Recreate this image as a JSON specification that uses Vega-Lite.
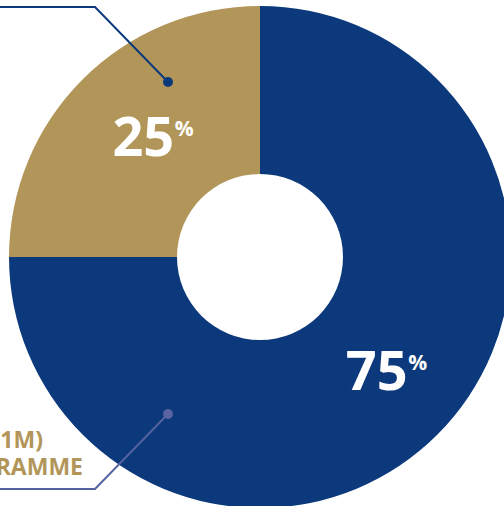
{
  "$schema": "https://vega.github.io/schema/vega-lite/v6.json",
  "width": 520,
  "height": 514,
  "autosize": "none",
  "padding": {"left": 0, "top": 0, "right": -16, "bottom": -8},
  "background": "white",
  "config": {"view": {"stroke": null}},
  "datasets": {
    "shares": [
      {"segment": "Programme", "share": 75, "label": "75"},
      {"segment": "£1M", "share": 25, "label": "25"}
    ],
    "leaderTop": [
      {"x": 0, "y": 7},
      {"x": 95, "y": 7},
      {"x": 168, "y": 82}
    ],
    "leaderBottom": [
      {"x": 0, "y": 489},
      {"x": 95, "y": 489},
      {"x": 168, "y": 414}
    ],
    "dotTop": [{"x": 168, "y": 82}],
    "dotBottom": [{"x": 168, "y": 414}],
    "caption": [
      {"x": 43, "y": 448, "text": "1M)"},
      {"x": 83, "y": 475, "text": "RAMME"}
    ]
  },
  "layer": [
    {
      "data": {"name": "shares"},
      "mark": {"type": "arc", "outerRadius": 251, "innerRadius": 83},
      "encoding": {
        "theta": {"field": "share", "type": "quantitative", "stack": true},
        "order": {"field": "share", "sort": "descending"},
        "color": {
          "field": "segment",
          "type": "nominal",
          "scale": {"domain": ["Programme", "£1M"], "range": ["#0b397c", "#b29659"]},
          "legend": null
        }
      }
    },
    {
      "data": {"name": "leaderTop"},
      "mark": {"type": "line", "color": "#0b397c", "strokeWidth": 2},
      "encoding": {
        "x": {"field": "x", "type": "quantitative", "scale": {"domain": [0, 520], "nice": false, "zero": false}, "axis": null},
        "y": {"field": "y", "type": "quantitative", "scale": {"domain": [0, 514], "nice": false, "zero": false, "reverse": true}, "axis": null}
      }
    },
    {
      "data": {"name": "leaderBottom"},
      "mark": {"type": "line", "color": "#5562a0", "strokeWidth": 2},
      "encoding": {
        "x": {"field": "x", "type": "quantitative"},
        "y": {"field": "y", "type": "quantitative"}
      }
    },
    {
      "data": {"name": "dotTop"},
      "mark": {"type": "circle", "color": "#0b397c", "opacity": 1, "size": 100},
      "encoding": {
        "x": {"field": "x", "type": "quantitative"},
        "y": {"field": "y", "type": "quantitative"}
      }
    },
    {
      "data": {"name": "dotBottom"},
      "mark": {"type": "circle", "color": "#5a64a0", "opacity": 1, "size": 100},
      "encoding": {
        "x": {"field": "x", "type": "quantitative"},
        "y": {"field": "y", "type": "quantitative"}
      }
    },
    {
      "data": {"name": "caption"},
      "mark": {"type": "text", "align": "right", "baseline": "alphabetic", "font": "Open Sans", "fontWeight": 700, "fontSize": 23, "color": "#b29659"},
      "encoding": {
        "x": {"field": "x", "type": "quantitative"},
        "y": {"field": "y", "type": "quantitative"},
        "text": {"field": "text"}
      }
    },
    {
      "data": {"name": "shares"},
      "mark": {"type": "text", "radius": 165, "font": "Open Sans", "fontWeight": 700, "fontSize": 54, "color": "white", "align": "center", "baseline": "middle"},
      "encoding": {
        "theta": {"field": "share", "type": "quantitative", "stack": true},
        "order": {"field": "share", "sort": "descending"},
        "text": {"field": "label"}
      }
    },
    {
      "data": {"name": "shares"},
      "mark": {"type": "text", "radius": 165, "font": "Open Sans", "fontWeight": 700, "fontSize": 21, "color": "white", "align": "center", "baseline": "middle", "dx": 41, "dy": -10},
      "encoding": {
        "theta": {"field": "share", "type": "quantitative", "stack": true},
        "order": {"field": "share", "sort": "descending"},
        "text": {"value": "%"}
      }
    }
  ]
}
